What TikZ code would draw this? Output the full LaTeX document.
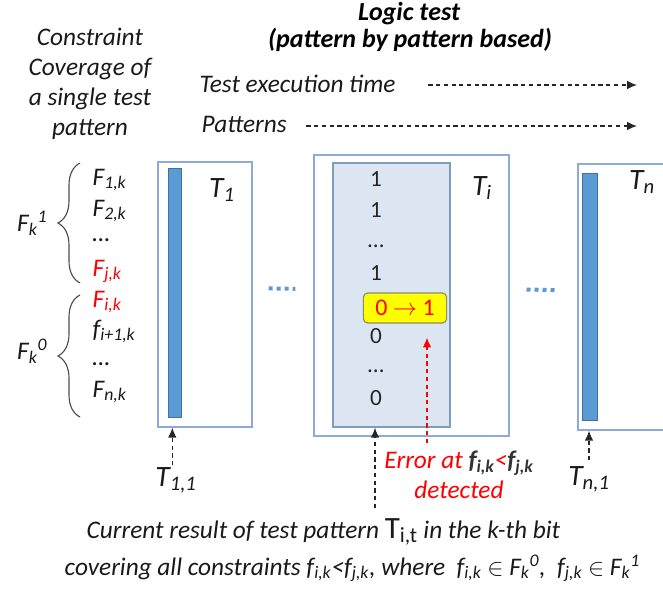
\documentclass[tikz,border=0pt]{standalone}
\usepackage{fontspec}
\setmainfont{Carlito}
\usetikzlibrary{arrows.meta, positioning, fit, decorations.pathreplacing}
\definecolor{boxline}{HTML}{8EAADB}
\definecolor{barblue}{HTML}{5B9BD5}
\definecolor{barline}{HTML}{41719C}
\definecolor{shadefill}{HTML}{DCE6F2}
\definecolor{shadeline}{HTML}{7F9DB9}
\definecolor{errred}{HTML}{FF0000}
\definecolor{flagyellow}{HTML}{FFFF00}
\newcommand{\lo}[1]{\textsubscript{#1}}
\newcommand{\hi}[1]{\textsuperscript{#1}}

\begin{document}
\begin{tikzpicture}[
    x=0.025cm, y=-0.025cm,
    txt/.style={font=\fontsize{18}{21.3}\selectfont\itshape, text=black!90, inner sep=1pt},
    head/.style={font=\fontsize{18.5}{20}\selectfont\bfseries\itshape, inner sep=1pt},
    big/.style={font=\fontsize{21}{24}\selectfont\itshape, text=black!90, inner sep=1pt},
    bit/.style={font=\fontsize{16.5}{18}\selectfont, text=black!85, inner sep=1pt},
    outerbox/.style={draw=boxline, line width=1pt, inner sep=0pt},
    bar/.style={draw=barline, fill=barblue, line width=0.6pt, inner sep=0pt},
    shaded/.style={draw=shadeline, fill=shadefill, line width=1pt, inner sep=0pt},
    flag/.style={draw=gray!70!olive, fill=flagyellow, rounded corners=3pt, line width=0.8pt,
        minimum width=2.08cm, minimum height=0.75cm, inner sep=1pt, text=errred,
        font=\fontsize{17}{18}\selectfont},
    dasharrow/.style={black!85, thick, dash pattern=on 3pt off 2.5pt, -{Latex[length=7pt,width=6pt]}},
    errarrow/.style={errred, thick, dash pattern=on 3pt off 2.5pt, -{Latex[length=7pt,width=6pt]}},
    dotline/.style={barblue, line width=0.1cm, dash pattern=on 0.1cm off 0.1cm},
    curly/.style={decorate, decoration={brace, amplitude=0.55cm}, thick, black!70}
]

\useasboundingbox (0,0) rectangle (663,592);

% Headings
\node[txt, align=center] (cover) at (90,84) {Constraint\\Coverage of\\a single test\\pattern};
\node[head, anchor=base] (logic) at (409,20) {Logic test};
\node[head, anchor=base] (based) at (410,47) {(pattern by pattern based)};
\node[txt, anchor=base west] (time) at (198,92) {Test execution time};
\node[txt, anchor=base west] (pats) at (200,132) {Patterns};
\coordinate (timeend) at (637,85);
\coordinate (patsend) at (637,126);

% Constraint list
\node[txt, anchor=base west] (f1) at (91,185) {F\lo{1,k}};
\node[txt, anchor=base west] (f2) at (91,216) {F\lo{2,k}};
\node[txt, anchor=base west] (fd1) at (91,241) {\ldots};
\node[txt, anchor=base west, text=errred] (fj) at (91,276) {F\lo{j,k}};
\node[txt, anchor=base west, text=errred] (fi) at (91,307) {F\lo{i,k}};
\node[txt, anchor=base west] (fi1) at (91,337) {f\lo{i+1,k}};
\node[txt, anchor=base west] (fd2) at (91,365) {\ldots};
\node[txt, anchor=base west] (fn) at (91,397) {F\lo{n,k}};

\node[txt, anchor=east] (fk1) at (49,223) {F\lo{k}\hi{1}};
\node[txt, anchor=east] (fk0) at (49,351) {F\lo{k}\hi{0}};

% Test patterns
\node[outerbox, fit={(158,162) (252,427)}] (t1box) {};
\node[bar, fit={(168,168) (181,417)}] (t1bar) {};
\node[big] (t1) at (222,190) {T\lo{1}};

\node[outerbox, fit={(314,155) (509,436)}] (tibox) {};
\node[shaded, fit={(333,163) (450,427)}] (ticol) {};
\node[big] (ti) at (482,188) {T\lo{i}};

\node[outerbox, fit={(578,164) (690,430)}] (tnbox) {};
\node[bar, fit={(582,173) (597,420)}] (tnbar) {};
\node[big] (tn) at (642,182) {T\lo{n}};

% Bits of T_i
\node[bit, anchor=base] (b1) at (376,186) {1};
\node[bit, anchor=base] (b2) at (376,217) {1};
\node[bit, anchor=base] (b3) at (376,247) {\ldots};
\node[bit, anchor=base] (b4) at (376,280) {1};
\node[flag] (flip) at (405,308) {0 $\rightarrow$ 1};
\node[bit, anchor=base] (b6) at (376,343) {0};
\node[bit, anchor=base] (b7) at (376,372) {\ldots};
\node[bit, anchor=base] (b8) at (376,405) {0};

% Labels below
\node[big, anchor=base] (t11) at (176,486) {T\lo{1,1}};
\node[big, anchor=base] (tn1) at (589,485) {T\lo{n,1}};
\node[txt, align=center, text=errred] (err) at (459,475)
    {Error at {\bfseries\color{black!80}f\lo{i,k}}<{\bfseries\color{black!80}f\lo{j,k}}\\detected};
\coordinate (errtop) at (427,443);
\coordinate (curtop) at (375,508);
\node[txt, anchor=base west] (note1) at (85,538)
    {Current result of test pattern {\fontsize{22}{24}\selectfont\upshape T\lo{i,t}} in the k-th bit};
\node[txt, anchor=base west] (note2) at (63,575)
    {covering all constraints f\lo{i,k}<f\lo{j,k}, where \ f\lo{i,k} $\in$ F\lo{k}\hi{0}, \ f\lo{j,k} $\in$ F\lo{k}\hi{1}};

% Braces
\draw[curly] (80,283) -- (80,163);
\draw[curly] (80,417) -- (80,295);

% Connecting lines
\draw[dasharrow] ([xshift=0.78cm]time.east |- timeend) -- (timeend);
\draw[dasharrow] ([xshift=0.45cm]pats.east |- patsend) -- (patsend);
\draw[dotline] ([yshift=0.16cm]t1box.east) -- ([yshift=0.16cm, xshift=-0.1cm]tibox.west) [shorten <=0.4cm, shorten >=0.35cm];
\draw[dotline] ([yshift=0.16cm]tibox.east) -- ([yshift=0.16cm, xshift=-0.1cm]tnbox.west) [shorten <=0.42cm, shorten >=0.4cm];
\draw[dasharrow] (t11.north -| t1box.south west) ++(15,0) coordinate (t11top) -- (t11top |- t1box.south);
\draw[dasharrow] ([yshift=0.1cm]tn1.north) -- (tn1.north |- tnbox.south);
\draw[dasharrow] (curtop) -- (curtop |- ticol.south);
\draw[errarrow, shorten >=0.35cm] (errtop) -- (errtop |- flip.south);

\end{tikzpicture}
\end{document}
